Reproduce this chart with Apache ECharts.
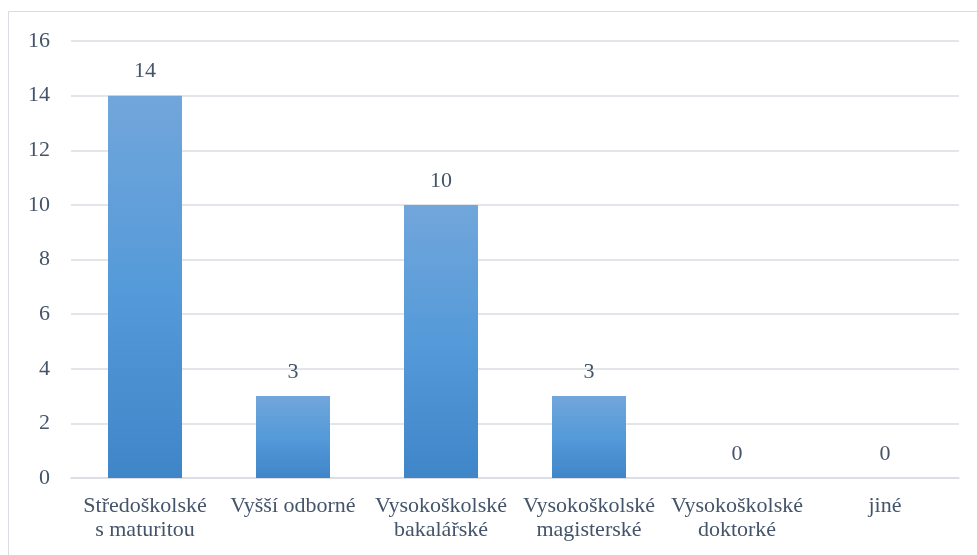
<!DOCTYPE html>
<html>
<head>
<meta charset="utf-8">
<script src="https://cdn.jsdelivr.net/npm/echarts@6/dist/echarts.min.js"></script>
<style>
  html, body { margin: 0; padding: 0; background: #fff; }
  #chart { width: 977px; height: 555px; }
</style>
</head>
<body>
<div id="chart"></div>
<script>
const categories = [
  "Středoškolské\ns maturitou",
  "Vyšší odborné",
  "Vysokoškolské\nbakalářské",
  "Vysokoškolské\nmagisterské",
  "Vysokoškolské\ndoktorké",
  "jiné"
];
const counts = [14, 3, 10, 3, 0, 0];

const textColor = "#44546a";
const font = "Liberation Serif";

const chart = echarts.init(document.getElementById("chart"));
chart.setOption({
  animation: false,
  textStyle: { fontFamily: font },
  graphic: [{
    type: "rect",
    shape: { x: 8.5, y: 11.5, width: 1000, height: 600 },
    style: { fill: "none", stroke: "#d9dde3", lineWidth: 1 },
    silent: true
  }],
  grid: { left: 71, right: 18, top: 41, bottom: 77 },
  xAxis: {
    type: "category",
    data: categories,
    axisLine: { show: true, lineStyle: { color: "#d9dde3", width: 1.5 } },
    axisTick: { show: false },
    axisLabel: {
      interval: 0,
      color: textColor,
      fontFamily: font,
      fontSize: 22,
      lineHeight: 24,
      margin: 16,
      overflow: "none"
    }
  },
  yAxis: {
    type: "value",
    min: 0,
    max: 16,
    interval: 2,
    axisLine: { show: false },
    axisTick: { show: false },
    splitLine: { lineStyle: { color: "#d9dde3", width: 1.5 } },
    axisLabel: {
      color: textColor,
      fontFamily: font,
      fontSize: 22,
      margin: 21
    }
  },
  series: [{
    type: "bar",
    data: counts,
    barWidth: "50%",
    itemStyle: {
      color: new echarts.graphic.LinearGradient(0, 0, 0, 1, [
        { offset: 0, color: "#71a6db" },
        { offset: 0.5, color: "#559ad9" },
        { offset: 1, color: "#3f86c9" }
      ])
    },
    label: {
      show: true,
      position: "top",
      distance: 13,
      color: textColor,
      fontFamily: font,
      fontSize: 22
    }
  }]
});
</script>
</body>
</html>
